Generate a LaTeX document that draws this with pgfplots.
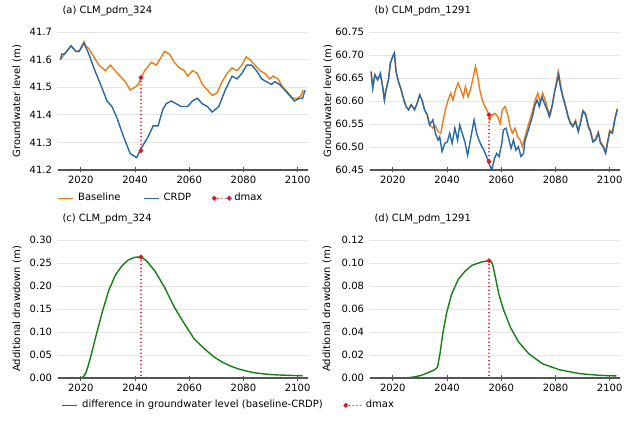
\documentclass[border=0pt]{standalone}
\usepackage{fontspec}
\setmainfont{DejaVu Sans}
\usepackage{pgfplots}
\pgfplotsset{compat=1.18}
\definecolor{cbase}{RGB}{235,125,20}
\definecolor{ccrdp}{RGB}{40,105,165}
\definecolor{cdiff}{RGB}{20,128,20}
\definecolor{cdmax}{RGB}{215,25,45}
\definecolor{cgrid}{RGB}{228,228,228}
\definecolor{caxis}{RGB}{85,85,85}
\pgfplotsset{
  panel/.style={
    scale only axis, width=250bp, height=138bp,
    anchor=south west,
    xmin=2011.6, xmax=2103.8,
    xtick={2020,2040,2060,2080,2100},
    axis x line*=bottom, axis y line*=left,
    y axis line style={draw=none},
    x axis line style={draw=caxis, line width=1.3bp},
    ymajorgrids, grid style={cgrid, line width=0.9bp},
    ytick style={draw=none},
    xtick style={draw=caxis, line width=0.8bp},
    major tick length=5bp, tick align=center,
    xticklabel style={/pgf/number format/1000 sep={}},
    /pgf/number format/assume math mode=true,
    tick label style={font=\fontsize{10bp}{12bp}\selectfont},
    label style={font=\fontsize{10bp}{12bp}\selectfont},
    title style={font=\fontsize{10bp}{12bp}\selectfont, at={(axis description cs:0,1)}, anchor=west, yshift=15bp, xshift=1bp},
    legend style={draw=none, fill=none, font=\fontsize{10bp}{12bp}\selectfont, inner sep=0pt,
      nodes={inner sep=0pt, anchor=base west},
      /tikz/every even column/.append style={column sep=23bp}},
    legend cell align=left,
    legend image code/.code={\path[draw=none, fill=none, use as bounding box] (0bp,-2bp) rectangle (20bp,6bp);
      \draw[#1] plot coordinates {(0bp,2.5bp) (15bp,2.5bp)};},
  },
  series/.style={line width=1.4bp, no marks},
  dmaxs/.style={cdmax, line width=1.5bp, dash pattern=on 0.1bp off 3.6bp, line cap=round, mark=*, mark size=1.5bp, mark options={solid, fill=cdmax, draw=cdmax}},
}
\begin{document}
\begin{tikzpicture}
\path[use as bounding box] (0,0) rectangle (637bp,427bp);
% (a)
\begin{axis}[panel, at={(58bp,257bp)},
  ymin=41.2, ymax=41.7, ytick={41.2,41.3,41.4,41.5,41.6,41.7},
  yticklabel style={/pgf/number format/.cd, fixed, fixed zerofill, precision=1},
  title={(a) CLM\_pdm\_324},
  ylabel={Groundwater level (m)},
  ylabel style={at={(axis description cs:-0.164,0.5)}, anchor=center},
  legend columns=3,
  legend style={at={(rel axis cs:0,0)}, anchor=north west, yshift=-23bp, xshift=0bp},
]
\addplot[series, cbase] coordinates {
(2012.5,41.60)(2014,41.62)(2016.4,41.65)(2018.2,41.63)(2019.4,41.63)(2021.2,41.665)
(2021.8,41.65)(2023,41.64)(2024.8,41.61)(2026.7,41.58)(2029.1,41.56)(2030.9,41.58)
(2032.7,41.56)(2034.5,41.54)(2036.4,41.52)(2038.2,41.49)(2040,41.50)(2041.2,41.51)
(2042.2,41.535)(2043.6,41.56)(2046,41.59)(2047.9,41.58)(2049.7,41.61)(2050.9,41.63)
(2052.7,41.62)(2054.5,41.59)(2056.4,41.57)(2058.2,41.56)(2059.4,41.54)(2061.2,41.56)
(2063,41.55)(2064.8,41.51)(2066.7,41.49)(2068.5,41.47)(2070.3,41.48)(2072.1,41.52)
(2074,41.55)(2075.8,41.57)(2077.6,41.56)(2079.4,41.58)(2081,41.61)(2082.4,41.60)
(2084.2,41.58)(2086.1,41.56)(2087.9,41.55)(2089.7,41.53)(2090.9,41.54)(2092.7,41.53)
(2094.5,41.50)(2096.4,41.48)(2098.2,41.46)(2100,41.46)(2101.2,41.47)(2102,41.49)
};
\addlegendentry{Baseline}
\addplot[series, ccrdp] coordinates {
(2012.5,41.60)(2013,41.62)(2014,41.62)(2016.4,41.65)(2018.2,41.63)(2019.4,41.63)(2021.2,41.66)
(2023,41.62)(2024.8,41.57)(2027.3,41.51)(2029.7,41.45)(2031.5,41.43)(2033.3,41.39)
(2035.8,41.32)(2038.2,41.26)(2040.6,41.245)(2042.4,41.28)(2044.8,41.32)(2046.7,41.36)
(2048.5,41.36)(2050.3,41.42)(2051.5,41.44)(2053.3,41.45)(2055.2,41.44)(2057,41.43)
(2059.4,41.43)(2061.2,41.45)(2063,41.46)(2064.8,41.44)(2066.7,41.43)(2068.5,41.41)
(2070.9,41.43)(2073.3,41.49)(2075.8,41.54)(2077.6,41.53)(2079.4,41.55)(2081.2,41.58)
(2083,41.58)(2084.8,41.56)(2086.7,41.53)(2088.5,41.52)(2090.3,41.51)(2091.5,41.52)
(2093.3,41.51)(2095.2,41.49)(2097,41.47)(2098.8,41.45)(2100.6,41.46)(2101.8,41.46)(2102.7,41.49)
};
\addlegendentry{CRDP}
\addplot[dmaxs] coordinates {(2042.2,41.535)(2042.2,41.27)};
\addlegendentry{dmax}
\end{axis}
% (b)
\begin{axis}[panel, at={(370bp,257bp)},
  ymin=60.45, ymax=60.75, ytick={60.45,60.50,60.55,60.60,60.65,60.70,60.75},
  yticklabel style={/pgf/number format/.cd, fixed, fixed zerofill, precision=2},
  title={(b) CLM\_pdm\_1291},
  ylabel={Groundwater level (m)},
  ylabel style={at={(axis description cs:-0.168,0.5)}, anchor=center},
]
\addplot[series, cbase] coordinates {
(2012,60.664)(2012.6,60.628)(2013.4,60.657)(2014.4,60.646)(2015.4,60.660)(2016.3,60.630)
(2016.9,60.602)(2017.5,60.624)(2018.4,60.646)(2019.1,60.682)(2020,60.697)(2020.6,60.704)
(2021.2,60.664)(2022.1,60.642)(2023.1,60.624)(2024.1,60.602)(2024.9,60.588)(2025.8,60.581)
(2026.8,60.592)(2028,60.581)(2029,60.595)(2029.9,60.613)(2030.8,60.602)(2031.7,60.581)
(2032.7,60.570)(2033.6,60.548)(2034.8,60.541)(2035.7,60.546)(2036.7,60.533)(2037.7,60.530)
(2038.5,60.555)(2039.4,60.581)(2040.4,60.602)(2041.4,60.617)(2042.2,60.602)(2043.1,60.624)
(2044.1,60.639)(2045.1,60.624)(2046,60.609)(2046.8,60.631)(2047.8,60.609)(2048.8,60.628)
(2049.7,60.653)(2050.5,60.675)(2051.3,60.653)(2052.1,60.624)(2053,60.602)(2054,60.588)
(2055,60.577)(2055.8,60.559)(2056.7,60.570)(2057.7,60.573)(2058.7,60.566)(2059.6,60.551)
(2060.4,60.581)(2061.4,60.588)(2062.4,60.570)(2063.3,60.544)(2064.1,60.530)(2065.1,60.541)
(2066.1,60.522)(2067,60.515)(2067.8,60.501)(2068.8,60.522)(2069.8,60.544)(2070.7,60.562)
(2071.5,60.577)(2072.5,60.602)(2073.5,60.617)(2074.4,60.595)(2075.3,60.617)(2076.2,60.602)
(2077.2,60.581)(2078.1,60.570)(2079,60.595)(2080,60.631)(2081,60.664)(2081.8,60.639)
(2082.7,60.612)(2083.7,60.591)(2084.6,60.569)(2085.5,60.554)(2086.4,60.547)(2087.4,60.558)
(2088.4,60.536)(2089.2,60.554)(2090.1,60.580)(2091.1,60.573)(2092.1,60.547)(2092.9,60.536)
(2093.8,60.514)(2094.8,60.518)(2095.8,60.533)(2096.6,60.511)(2097.5,60.504)(2098.5,60.489)
(2099.4,60.518)(2100,60.536)(2101,60.533)(2102,60.565)(2102.8,60.584)
};
\addplot[series, ccrdp] coordinates {
(2012,60.664)(2012.6,60.628)(2013.4,60.657)(2014.4,60.646)(2015.4,60.660)(2016.3,60.630)
(2016.9,60.602)(2017.5,60.624)(2018.4,60.646)(2019.1,60.682)(2020,60.697)(2020.6,60.704)
(2021.2,60.664)(2022.1,60.642)(2023.1,60.624)(2024.1,60.602)(2024.9,60.588)(2025.8,60.581)
(2026.8,60.592)(2028,60.581)(2029,60.595)(2029.9,60.613)(2030.8,60.602)(2031.7,60.581)
(2032.7,60.570)(2033.6,60.548)(2034.8,60.559)(2035.7,60.530)(2036.7,60.515)(2037.3,60.522)
(2038.2,60.490)(2039.2,60.508)(2040.1,60.511)(2041,60.530)(2041.9,60.508)(2042.9,60.541)
(2043.9,60.515)(2044.7,60.548)(2045.6,60.530)(2046.6,60.511)(2047.6,60.482)(2048.4,60.508)
(2049.3,60.537)(2050,60.559)(2050.9,60.530)(2051.8,60.515)(2052.8,60.501)(2053.6,60.493)
(2054.6,60.479)(2055.5,60.464)(2056.5,60.450)(2057.5,60.475)(2058.3,60.486)(2059.2,60.479)
(2060.2,60.508)(2060.8,60.537)(2061.7,60.541)(2062.6,60.522)(2063.6,60.497)(2064.5,60.515)
(2065.4,60.493)(2066.3,60.501)(2067.3,60.479)(2068.2,60.486)(2068.8,60.515)(2069.8,60.533)
(2070.7,60.551)(2071.5,60.566)(2072.3,60.588)(2073.2,60.602)(2074,60.588)(2075,60.609)
(2075.9,60.595)(2076.9,60.581)(2077.7,60.566)(2078.7,60.588)(2079.7,60.621)(2080.6,60.642)
(2081.2,60.657)(2081.8,60.631)(2082.7,60.609)(2083.7,60.588)(2084.6,60.566)(2085.5,60.551)
(2086.4,60.544)(2087.4,60.555)(2088.4,60.533)(2089.2,60.551)(2090.1,60.577)(2091.1,60.570)
(2092.1,60.544)(2092.9,60.533)(2093.8,60.511)(2094.8,60.515)(2095.8,60.530)(2096.6,60.508)
(2097.5,60.501)(2098.5,60.486)(2099.4,60.515)(2100,60.533)(2101,60.530)(2102,60.562)(2102.8,60.581)
};
\addplot[dmaxs] coordinates {(2055.5,60.570)(2055.5,60.468)};
\end{axis}
% (c)
\begin{axis}[panel, at={(58bp,49bp)},
  ymin=0, ymax=0.30, ytick={0,0.05,0.10,0.15,0.20,0.25,0.30},
  yticklabel style={/pgf/number format/.cd, fixed, fixed zerofill, precision=2},
  title={(c) CLM\_pdm\_324},
  ylabel={Additional drawdown (m)},
  ylabel style={at={(axis description cs:-0.164,0.5)}, anchor=center},
  legend columns=2,
  legend style={at={(rel axis cs:0,0)}, anchor=north west, yshift=-22bp, xshift=4bp},
]
\addplot[series, cdiff] coordinates {
(2012,0)(2016,0)(2020.3,0)(2021,0.003)(2021.8,0.010)(2022.7,0.026)(2023.6,0.045)(2025.5,0.089)(2027.9,0.143)
(2030.3,0.190)(2032.7,0.223)(2035.2,0.244)(2037.6,0.257)(2040,0.2625)(2042.2,0.263)
(2044.2,0.255)(2047.3,0.233)(2050.9,0.197)(2054.5,0.154)(2058.2,0.118)(2061.8,0.085)
(2065.5,0.064)(2069.1,0.046)(2072,0.035)(2075.2,0.026)(2078,0.020)(2081.2,0.015)(2084,0.0115)(2087.3,0.009)(2090,0.0075)(2093.3,0.0065)(2097,0.0057)(2101.8,0.005)
};
\addlegendentry{difference in groundwater level (baseline-CRDP)}
\addplot[dmaxs, mark indices={1}] coordinates {(2042.2,0.263)(2042.2,0)};
\addlegendentry{dmax}
\end{axis}
% (d)
\begin{axis}[panel, at={(370bp,49bp)},
  ymin=0, ymax=0.12, ytick={0,0.02,0.04,0.06,0.08,0.10,0.12},
  yticklabel style={/pgf/number format/.cd, fixed, fixed zerofill, precision=2},
  title={(d) CLM\_pdm\_1291},
  ylabel={Additional drawdown (m)},
  ylabel style={at={(axis description cs:-0.172,0.5)}, anchor=center},
]
\addplot[series, cdiff] coordinates {
(2012,0)(2020,0)(2025,0)(2028.1,0.001)(2030.5,0.0023)(2033,0.0046)(2035.5,0.0072)(2036.5,0.0095)
(2037.4,0.021)(2038.6,0.041)(2039.9,0.057)(2041.7,0.073)(2044.2,0.086)(2046.7,0.093)
(2049.2,0.098)(2052.9,0.101)(2055.6,0.102)(2056.3,0.101)(2056.8,0.099)(2057.8,0.088)(2059.1,0.073)
(2060.9,0.059)(2063.4,0.044)(2066.5,0.031)(2070.2,0.021)(2075.2,0.0124)(2081.4,0.0072)
(2088.9,0.0038)(2096.3,0.0023)(2102.5,0.0018)
};
\addplot[dmaxs, mark indices={1}] coordinates {(2055.5,0.102)(2055.5,0)};
\end{axis}
\end{tikzpicture}
\end{document}
